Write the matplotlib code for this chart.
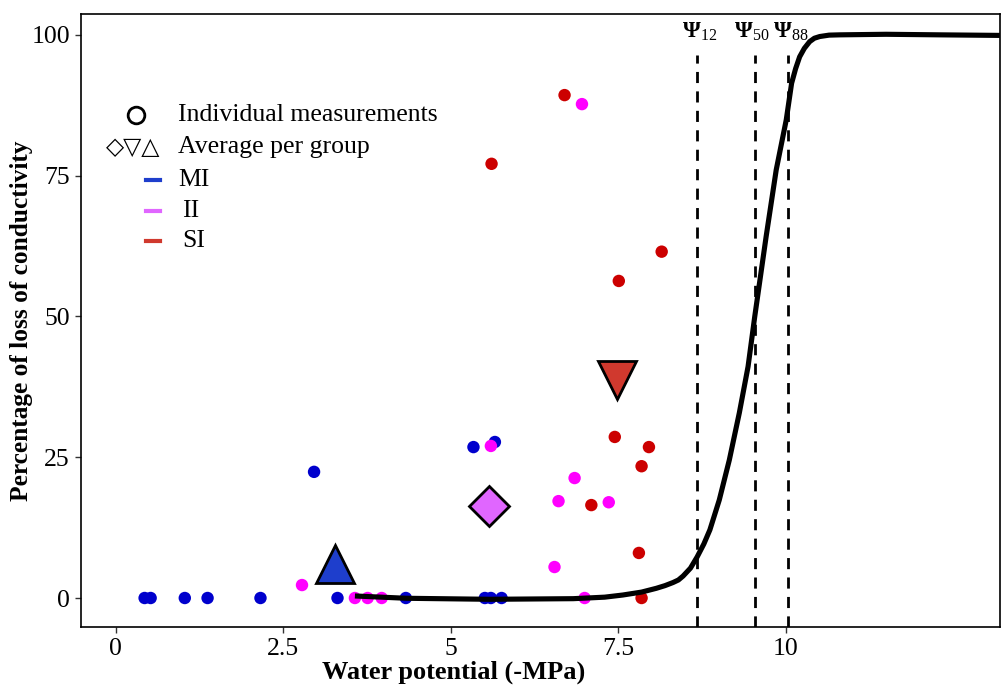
import numpy as np
import matplotlib
matplotlib.use('Agg')
import matplotlib.pyplot as plt

# individual measurements (water potential -MPa, PLC %)
mi_x = [0.43, 0.52, 1.03, 1.37, 2.16, 3.31, 4.33, 5.51, 5.60, 5.76, 2.96, 5.34, 5.66]
mi_y = [0, 0, 0, 0, 0, 0, 0, 0, 0, 0, 22.4, 26.8, 27.7]
ii_x = [2.78, 3.57, 3.76, 3.97, 7.00, 5.60, 6.85, 6.61, 7.36, 6.55, 6.96]
ii_y = [2.3, 0, 0, 0, 0, 27.0, 21.3, 17.2, 17.0, 5.5, 87.7]
si_x = [6.70, 5.61, 8.15, 7.51, 7.45, 7.96, 7.85, 7.10, 7.81, 7.85]
si_y = [89.3, 77.1, 61.5, 56.3, 28.6, 26.8, 23.4, 16.5, 8.0, 0]

# group averages
avg_x = [3.27, 5.57, 7.49]
avg_y = [6.0, 16.3, 38.7]
avg_markers = ['^', 'D', 'v']

# fitted vulnerability curve
curve_x = [3.57, 4.34, 5.58, 6.83, 7.30, 7.57, 7.85, 8.07, 8.20, 8.32, 8.40, 8.47,
           8.58, 8.68, 8.78, 8.87, 9.01, 9.16, 9.31, 9.44, 9.54, 9.71, 9.86, 10.01,
           10.09, 10.15, 10.21, 10.28, 10.36, 10.43, 10.51, 10.65, 10.81,
           11.5, 12.3, 13.2]
curve_y = [0.36, -0.05, -0.23, -0.12, 0.15, 0.53, 1.05, 1.72, 2.2, 2.75, 3.2, 3.9,
           5.3, 7.3, 9.6, 12.1, 17.4, 24.5, 32.9, 41.1, 50.0, 64.2, 76.0, 84.9,
           91.4, 94.0, 96.1, 97.6, 98.8, 99.4, 99.7, 99.95, 100.0,
           100.1, 100.0, 99.9]

psi_values = [8.68, 9.54, 10.03]
psi_labels = ['12', '50', '88']
psi_label_x = [8.72, 9.50, 10.08]

groups = ['MI', 'II', 'SI']
point_colors = ['#0000CD', '#FF00FF', '#CC0000']
avg_colors = ['#1E3ECC', '#E066FF', '#D0392E']

x_ticks = [0, 2.5, 5, 7.5, 10]
x_ticklabels = ['0', '2.5', '5', '7.5', '10']
y_ticks = [0, 25, 50, 75, 100]


def main():
    plt.rcParams['font.family'] = ['Liberation Serif', 'DejaVu Sans']
    plt.rcParams['mathtext.fontset'] = 'custom'
    plt.rcParams['mathtext.rm'] = 'Liberation Serif'
    plt.rcParams['mathtext.bf'] = 'Liberation Serif:bold'

    fig = plt.figure(figsize=(10.01, 6.9), dpi=100)
    ax = fig.add_axes([0.0809, 0.0913, 0.918, 0.8884])

    ax.set_xlim(-0.52, 13.2)
    ax.set_ylim(-5.15, 103.7)

    for xs, ys, c in zip([mi_x, ii_x, si_x], [mi_y, ii_y, si_y], point_colors):
        ax.scatter(xs, ys, s=80, color=c, edgecolors='none', zorder=3)

    ax.plot(curve_x, curve_y, color='black', lw=3.7, solid_capstyle='butt',
            solid_joinstyle='round', zorder=4)

    for v, lx, lab in zip(psi_values, psi_label_x, psi_labels):
        ax.plot([v, v], [-5.15, 96.5], color='black', lw=2.0,
                dashes=(4, 3), zorder=2)
        ax.text(lx, 100.5, r'$\mathbf{\Psi}_{\mathrm{' + lab + '}}$', ha='center',
                va='center', fontsize=16.5)

    for x, y, m, c in zip(avg_x, avg_y, avg_markers, avg_colors):
        ms = 28 if m != 'D' else 20
        ax.plot(x, y, marker=m, ms=ms, mfc=c, mec='black', mew=2.0, ls='none',
                zorder=5)

    ax.set_xticks(x_ticks)
    ax.set_xticklabels(x_ticklabels)
    ax.set_yticks(y_ticks)
    ax.tick_params(labelsize=18.5, length=4, width=1, color='#333333', pad=4)
    for s in ax.spines.values():
        s.set_linewidth(1.2)

    ax.set_xlabel('Water potential (-MPa)', fontsize=19, fontweight='bold')
    ax.xaxis.set_label_coords(0.405, -0.055)
    ax.set_ylabel('Percentage of loss of conductivity', fontsize=18.3,
                  fontweight='bold')
    ax.yaxis.set_label_coords(-0.052, 0.5)

    # manual legend
    tr = ax.transAxes
    def ax_pos(px, py):
        return ((px - 81) / 919.0, (627 - py) / 613.0)

    fs = 18.5
    p = ax_pos(136, 115)
    ax.plot(*p, marker='o', ms=12, mfc='none', mec='black', mew=2, transform=tr,
            clip_on=False)
    ax.text(*ax_pos(178, 115), 'Individual measurements', transform=tr, fontsize=fs,
            va='center', ha='left')
    ax.text(*ax_pos(133, 147), '\u25c7\u25bd\u25b3', transform=tr, fontsize=17,
            va='center', ha='center', family=['DejaVu Sans'], fontweight='bold')
    ax.text(*ax_pos(178, 147), 'Average per group', transform=tr, fontsize=fs,
            va='center', ha='left')
    for i, (g, c) in enumerate(zip(groups, avg_colors)):
        py = [180, 211, 241][i]
        x0, y0 = ax_pos(146, py)
        x1, _ = ax_pos(160, py)
        ax.plot([x0, x1], [y0, y0], color=c, lw=3, transform=tr, clip_on=False)
        tx = 178 if g == 'MI' else 182
        ax.text(*ax_pos(tx, py), g, transform=tr, fontsize=fs, va='center', ha='left')

    fig.savefig('out.png', dpi=100)


if __name__ == '__main__':
    main()
